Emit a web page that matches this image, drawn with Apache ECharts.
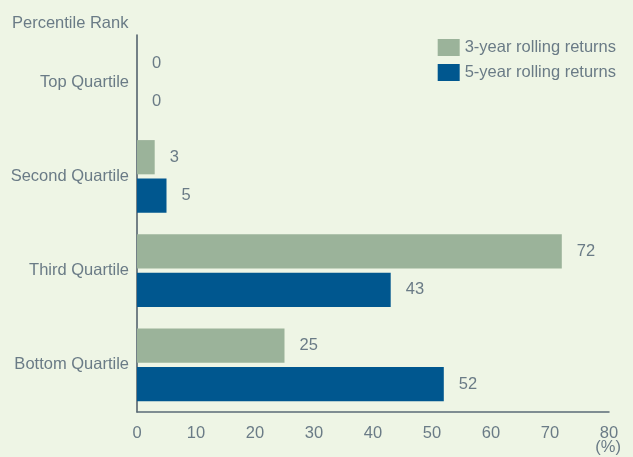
<!DOCTYPE html>
<html>
<head>
<meta charset="utf-8">
<script src="https://cdn.jsdelivr.net/npm/echarts@6/dist/echarts.min.js"></script>
<style>
  html, body { margin: 0; padding: 0; background: #eef5e5; }
  #chart { width: 633px; height: 457px; }
</style>
</head>
<body>
<div id="chart"></div>
<script>
const categories = ["Top Quartile", "Second Quartile", "Third Quartile", "Bottom Quartile"];
const seriesNames = ["3-year rolling returns", "5-year rolling returns"];
const threeYear = [0, 3, 72, 25];
const fiveYear = [0, 5, 43, 52];
const xTicks = { min: 0, max: 80, interval: 10 };

const textColor = "#6a7b86";
const fontFamily = "Liberation Sans, Arial, sans-serif";
const fs = 16.5;

const chart = echarts.init(document.getElementById("chart"));

const labelOpt = {
  show: true,
  position: "right",
  distance: 15,
  color: textColor,
  fontSize: fs,
  fontFamily: fontFamily,
};

chart.setOption({
  backgroundColor: "#eef5e5",
  animation: false,
  textStyle: { fontFamily: fontFamily },
  title: {
    text: "Percentile Rank",
    left: 7,
    top: 10,
    textStyle: { color: textColor, fontSize: fs, fontWeight: "normal", fontFamily: fontFamily },
  },
  legend: {
    right: 12,
    top: 34,
    orient: "vertical",
    itemWidth: 22,
    itemHeight: 17,
    itemGap: 8,
    icon: "rect",
    textStyle: { color: textColor, fontSize: fs, fontFamily: fontFamily },
    data: seriesNames,
  },
  grid: { left: 137, right: 24, top: 35, bottom: 45, containLabel: false },
  xAxis: {
    type: "value",
    min: xTicks.min,
    max: xTicks.max,
    interval: xTicks.interval,
    axisLine: { show: true, lineStyle: { color: "#5b6b77", width: 1.5 } },
    axisTick: { show: false },
    splitLine: { show: false },
    axisLabel: { color: textColor, fontSize: fs, margin: 13, fontFamily: fontFamily },
  },
  yAxis: {
    type: "category",
    inverse: true,
    data: categories,
    axisLine: { show: true, lineStyle: { color: "#4a5966", width: 1.5 } },
    axisTick: { show: false },
    axisLabel: { color: textColor, fontSize: fs, margin: 8, padding: [5, 0, 0, 0], fontFamily: fontFamily },
  },
  graphic: [
    {
      type: "text",
      right: 12,
      top: 439,
      style: { text: "(%)", fill: textColor, fontSize: fs, fontFamily: fontFamily },
    },
  ],
  series: [
    {
      name: seriesNames[0],
      type: "bar",
      data: threeYear,
      barCategoryGap: "23%",
      barGap: "12%",
      itemStyle: { color: "#9bb39a" },
      label: labelOpt,
    },
    {
      name: seriesNames[1],
      type: "bar",
      data: fiveYear,
      barCategoryGap: "23%",
      barGap: "12%",
      itemStyle: { color: "#00578f" },
      label: labelOpt,
    },
  ],
});
</script>
</body>
</html>
